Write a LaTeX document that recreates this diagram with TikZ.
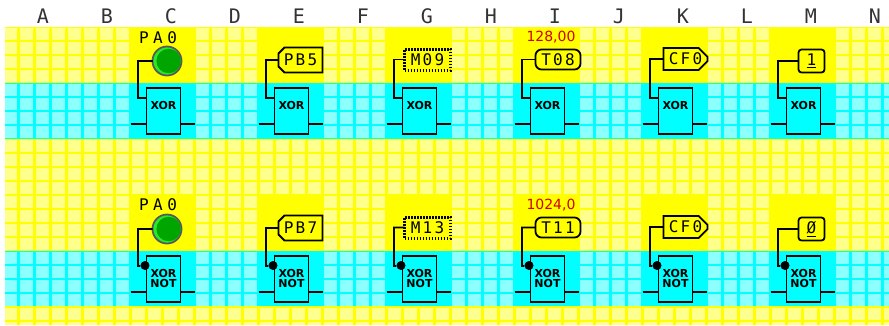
\documentclass[tikz,border=0pt]{standalone}
\usepackage{fontspec}
\setmainfont{DejaVu Sans}
\newfontfamily\plcfont[LetterSpace=14]{DejaVu Sans Mono}
\newfontfamily\wideplcfont[LetterSpace=28]{DejaVu Sans Mono}
\usetikzlibrary{shapes.misc}
\definecolor{plcyellow}{RGB}{255,255,0}
\definecolor{plccyan}{RGB}{0,255,255}
\definecolor{lampgreen}{RGB}{0,165,0}
\definecolor{lamplime}{RGB}{40,235,40}
\definecolor{valuered}{RGB}{210,0,0}
\begin{document}
\begin{tikzpicture}[x=1pt,y=-1pt]
	\tikzstyle{cell}=[fill=white,opacity=.55]
	\tikzstyle{wire}=[draw=black,line width=1.8pt]
	\tikzstyle{tag}=[draw=black,line width=1.8pt,inner sep=0pt,outer sep=0pt,font=\plcfont\fontsize{16}{16}\selectfont]
	\tikzstyle{tagpb}=[tag,chamfered rectangle,chamfered rectangle corners={north west,south west},chamfered rectangle xsep=3pt,chamfered rectangle ysep=3pt,minimum width=44pt,minimum height=25pt]
	\tikzstyle{tagm}=[tag,rectangle,dash pattern=on 1.5pt off 1.5pt,line width=3pt,minimum width=46pt,minimum height=21pt]
	\tikzstyle{tagt}=[tag,rectangle,rounded corners=6pt,minimum width=45pt,minimum height=20pt]
	\tikzstyle{tagcf}=[tag,chamfered rectangle,chamfered rectangle corners={north east,south east},chamfered rectangle xsep=4pt,chamfered rectangle ysep=5pt,minimum width=44pt,minimum height=20pt]
	\tikzstyle{tagone}=[tag,rectangle,rounded corners=3pt,minimum width=26pt,minimum height=23pt]
	\tikzstyle{lamp}=[circle,draw=black!65,line width=1.8pt,fill=lamplime,inner sep=0pt,outer sep=0pt,minimum size=29pt]
	\tikzstyle{gatebox}=[draw=black,line width=1.8pt,fill=plccyan,rectangle,inner sep=0pt,outer sep=0pt,minimum width=34pt,minimum height=46pt]
	\tikzstyle{gatetext}=[font=\bfseries\fontsize{11}{10}\selectfont,align=center,inner sep=0pt]
	\tikzstyle{bubble}=[circle,fill=black,inner sep=0pt,minimum size=9pt]
	\tikzstyle{header}=[text=black!80,font=\plcfont\fontsize{20}{20}\selectfont,inner sep=0pt]
	\tikzstyle{signal}=[font=\wideplcfont\fontsize{16}{16}\selectfont,inner sep=0pt]
	\tikzstyle{value}=[text=valuered,font=\fontsize{14}{14}\selectfont,inner sep=0pt]

	\useasboundingbox (0,0) rectangle (889,325);
	\fill[plcyellow] (5,27) rectangle (889,325);
	\fill[plccyan] (5,83) rectangle (889,139);
	\fill[plccyan] (5,251) rectangle (889,306);
	\begin{scope}
		\clip (5,27) rectangle (889,325);
		\foreach \i in {0,...,55}
			\foreach \j in {0,...,21}
				\fill[cell] (3.5+16*\i,28.2+14*\j) rectangle (16.5+16*\i,39.8+14*\j);
	\end{scope}
	\foreach \x in {130,258,386,514,642,770} {
		\fill[plcyellow] (\x,27) rectangle (\x+65,83);
		\fill[plccyan] (\x,83) rectangle (\x+65,139);
		\fill[plcyellow] (\x,194) rectangle (\x+65,251);
		\fill[plccyan] (\x,251) rectangle (\x+65,306);
	}

	\foreach \c [count=\k from 0] in {A,B,C,D,E,F,G,H,I,J,K,L,M,N}
		\node[header] (col\c) at (43+64*\k,16) {\c};

	\node[signal] (pa0a) at (158,37.5) {PA0};
	\node[signal] (pa0b) at (158,205) {PA0};
	\node[value] (timea) at (551,37.5) {128,00};
	\node[value] (timeb) at (551,205) {1024,0};

	\foreach \x/\cx/\cy/\sty/\up/\dn in {
		130/167/61/lamp//,
		258/300.5/60/tagpb/PB5/PB7,
		386/427.5/59.5/tagm/M09/M13,
		514/558/59.5/tagt/T08/T11,
		642/685.5/59/tagcf/CF0/CF0,
		770/811.5/61/tagone/\underline{1}/\underline{Ø}} {
		\node[\sty] (ca\x) at (\cx,\cy) {\up};
		\node[gatebox] (gatea\x) at (\x+33.5,111) {};
		\node[gatetext] (xora\x) at (\x+33.5,105) {XOR};
		\coordinate (benda\x) at (\x+8,98);
		\coordinate (pina\x) at (\x+16,98);
		\coordinate (ina\x) at (\x+1,124);
		\coordinate (outa\x) at (\x+65,124);
		\draw[wire] (ca\x.west) -| (benda\x) -- (pina\x);
		\draw[wire] (ina\x) -- (ina\x -| gatea\x.west);
		\draw[wire] (outa\x -| gatea\x.east) -- (outa\x);

		\node[\sty] (cb\x) at (\cx,\cy+168) {\dn};
		\node[gatebox] (gateb\x) at (\x+33.5,279) {};
		\node[gatetext] (xorb\x) at (\x+33.5,278) {XOR\\NOT};
		\coordinate (bendb\x) at (\x+8,266);
		\node[bubble] (pinb\x) at (\x+15,265.5) {};
		\coordinate (inb\x) at (\x+1,292);
		\coordinate (outb\x) at (\x+65,292);
		\draw[wire] (cb\x.west) -| (bendb\x) -- (pinb\x);
		\draw[wire] (inb\x) -- (inb\x -| gateb\x.west);
		\draw[wire] (outb\x -| gateb\x.east) -- (outb\x);
	}
	\fill[lampgreen] ([xshift=1.6pt]ca130.center) circle (12.2);
	\fill[lampgreen] ([xshift=1.6pt]cb130.center) circle (12.2);
\end{tikzpicture}
\end{document}
